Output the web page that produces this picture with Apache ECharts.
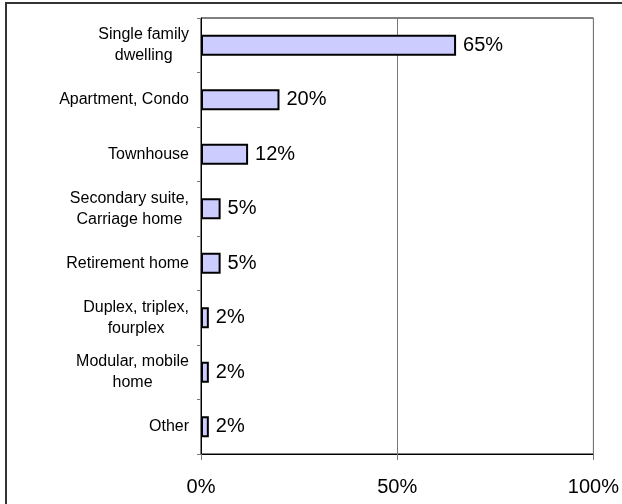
<!DOCTYPE html>
<html>
<head>
<meta charset="utf-8">
<script src="https://cdn.jsdelivr.net/npm/echarts@6/dist/echarts.min.js"></script>
<style>
  html, body { margin: 0; padding: 0; background: #fff; }
  #chart { width: 622px; height: 504px; }
</style>
</head>
<body>
<div id="chart"></div>
<script>
// Housing types and their share of respondents (%)
const categories = [
  'Single family\ndwelling',
  'Apartment, Condo',
  'Townhouse',
  'Secondary suite,\nCarriage home',
  'Retirement home',
  'Duplex, triplex,\nfourplex',
  'Modular, mobile\nhome',
  'Other'
];
const shares = [65, 20, 12, 5, 5, 2, 2, 2];
const axisTicks = [0, 50, 100];

const chart = echarts.init(document.getElementById('chart'), null, { renderer: 'canvas' });
const font = 'Liberation Sans, Arial, sans-serif';

// each line of a wrapped category name is centred under the longest one
const centredLines = s => s.split('\n').map(line => '{c|' + line + '}').join('\n');

chart.setOption({
  animation: false,
  backgroundColor: '#fff',
  graphic: [{
    type: 'rect',
    shape: { x: 6, y: 3, width: 700, height: 600 },
    style: { fill: 'none', stroke: '#333', lineWidth: 2 },
    silent: true
  }],
  grid: {
    left: 201, right: 25, top: 18, bottom: 50,
    show: true, borderColor: '#000', borderWidth: 1, backgroundColor: 'transparent'
  },
  xAxis: {
    type: 'value',
    min: axisTicks[0],
    max: axisTicks[axisTicks.length - 1],
    interval: 50,
    axisLine: { show: true, lineStyle: { color: '#000', width: 1 } },
    axisTick: { show: true, length: 6, lineStyle: { color: '#777' } },
    splitLine: { show: true, lineStyle: { color: '#777', width: 1 } },
    axisLabel: {
      margin: 23, color: '#000', fontSize: 20, fontFamily: font,
      formatter: v => v + '%'
    }
  },
  yAxis: {
    type: 'category',
    data: categories,
    inverse: true,
    axisLine: { show: true, lineStyle: { color: '#000', width: 1 } },
    axisTick: { show: true, length: 4, alignWithLabel: false, lineStyle: { color: '#777' } },
    axisLabel: {
      margin: 12, color: '#000', fontSize: 16, fontFamily: font,
      lineHeight: 21, align: 'right',
      formatter: centredLines,
      rich: {
        c: { align: 'center', color: '#000', fontSize: 16, fontFamily: font, lineHeight: 21 }
      }
    }
  },
  series: [{
    type: 'bar',
    data: shares,
    barWidth: 21,
    itemStyle: { color: '#ccccff', borderColor: '#000', borderWidth: 2 },
    label: {
      show: true, position: 'right', distance: 7,
      color: '#000', fontSize: 20, fontFamily: font,
      formatter: p => p.value + '%'
    }
  }]
});
</script>
</body>
</html>
